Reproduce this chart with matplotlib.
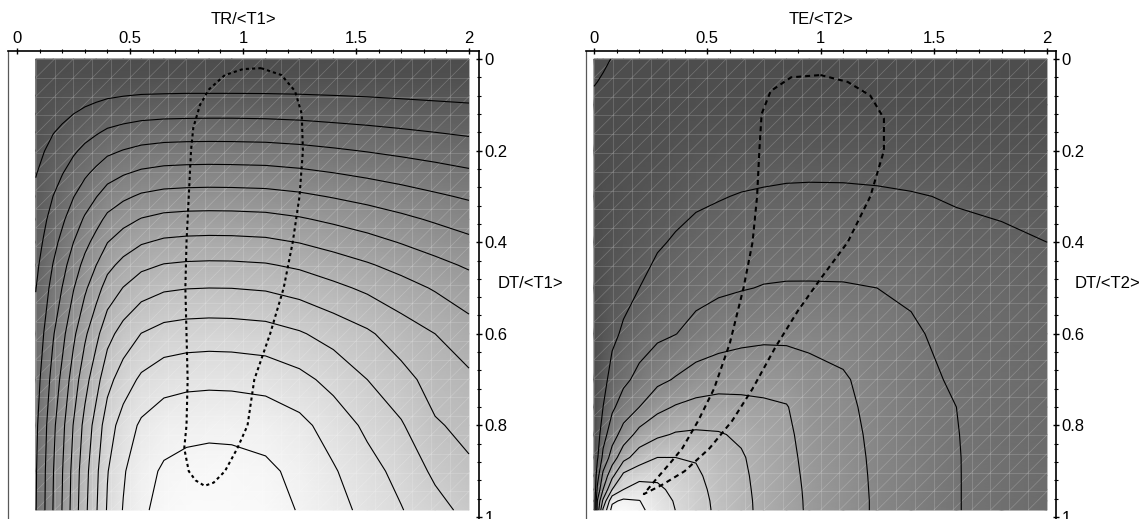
import numpy as np
import matplotlib
matplotlib.use("Agg")
import matplotlib.pyplot as plt
import matplotlib.transforms as mtransforms
from matplotlib.collections import LineCollection
from matplotlib.colors import LinearSegmentedColormap
from matplotlib.ticker import MultipleLocator, FuncFormatter

plt.rcParams['font.family'] = ['Liberation Sans', 'DejaVu Sans']
plt.rcParams['font.size'] = 12

# ---- left panel: TR/<T1> vs DT/<T1>, values in contour-level units ----
tr_vals = [0.083, 0.12, 0.16, 0.2, 0.25, 0.3, 0.35, 0.4, 0.47, 0.55, 0.65,
           0.75, 0.85, 0.95, 1.1, 1.25, 1.4, 1.55, 1.7, 1.85, 2.0]
dt1_vals = [0, 0.04, 0.08, 0.12, 0.16, 0.2, 0.25, 0.3, 0.35, 0.4, 0.45, 0.5,
            0.6, 0.7, 0.8, 0.9, 0.985]
level_t1 = [
    [0] * 21,
    [0.07, 0.09, 0.11, 0.13, 0.17, 0.19, 0.22, 0.25, 0.27, 0.29, 0.3, 0.3, 0.3, 0.3, 0.3, 0.29, 0.27, 0.26, 0.25, 0.23, 0.22],
    [0.24, 0.32, 0.41, 0.49, 0.61, 0.71, 0.81, 0.9, 0.98, 1.05, 1.08, 1.1, 1.1, 1.1, 1.09, 1.06, 1.01, 0.96, 0.9, 0.84, 0.79],
    [0.40, 0.53, 0.68, 0.81, 1.0, 1.18, 1.33, 1.5, 1.62, 1.73, 1.79, 1.81, 1.82, 1.82, 1.8, 1.75, 1.66, 1.58, 1.49, 1.4, 1.31],
    [0.57, 0.75, 0.97, 1.16, 1.43, 1.69, 1.91, 2.14, 2.32, 2.47, 2.56, 2.59, 2.6, 2.6, 2.57, 2.49, 2.38, 2.26, 2.13, 2.0, 1.87],
    [0.74, 0.98, 1.27, 1.52, 1.87, 2.2, 2.49, 2.8, 3.03, 3.23, 3.35, 3.39, 3.4, 3.39, 3.36, 3.26, 3.11, 2.95, 2.78, 2.61, 2.44],
    [0.96, 1.27, 1.64, 1.97, 2.42, 2.85, 3.23, 3.62, 3.93, 4.18, 4.33, 4.38, 4.4, 4.39, 4.35, 4.22, 4.03, 3.82, 3.6, 3.38, 3.16],
    [1.18, 1.56, 2.01, 2.41, 2.97, 3.5, 3.96, 4.44, 4.82, 5.14, 5.32, 5.38, 5.4, 5.39, 5.34, 5.18, 4.94, 4.69, 4.42, 4.14, 3.88],
    [1.39, 1.84, 2.37, 2.84, 3.5, 4.12, 4.66, 5.23, 5.68, 6.05, 6.27, 6.34, 6.36, 6.35, 6.29, 6.1, 5.82, 5.53, 5.21, 4.88, 4.57],
    [1.59, 2.1, 2.71, 3.25, 4.0, 4.71, 5.33, 5.98, 6.49, 6.91, 7.16, 7.24, 7.27, 7.26, 7.19, 6.97, 6.65, 6.32, 5.95, 5.58, 5.22],
    [1.79, 2.36, 3.04, 3.65, 4.5, 5.29, 5.99, 6.72, 7.29, 7.77, 8.05, 8.14, 8.17, 8.16, 8.08, 7.84, 7.47, 7.1, 6.69, 6.27, 5.87],
    [1.97, 2.6, 3.35, 4.02, 4.95, 5.83, 6.6, 7.4, 8.03, 8.56, 8.87, 8.97, 9.0, 8.99, 8.9, 8.63, 8.23, 7.82, 7.37, 6.91, 6.47],
    [2.3, 3.04, 3.92, 4.7, 5.8, 6.82, 7.72, 8.66, 9.4, 10.02, 10.37, 10.49, 10.53, 10.51, 10.41, 10.1, 9.63, 9.15, 8.5, 8.0, 7.4],
    [2.57, 3.4, 4.38, 5.25, 6.47, 7.62, 8.62, 9.67, 10.5, 11.18, 11.59, 11.72, 11.76, 11.74, 11.63, 11.28, 10.7, 10.0, 9.35, 8.6, 8.2],
    [2.8, 3.7, 4.77, 5.72, 7.05, 8.3, 9.39, 10.52, 11.43, 12.17, 12.61, 12.75, 12.8, 12.78, 12.66, 12.28, 11.55, 10.8, 10.1, 9.1, 8.75],
    [2.91, 3.85, 4.96, 5.95, 7.33, 8.63, 9.77, 10.95, 11.89, 12.67, 13.12, 13.27, 13.32, 13.3, 13.17, 12.78, 12.1, 11.35, 10.7, 9.8, 9.15],
    [2.95, 3.9, 5.03, 6.03, 7.43, 8.75, 9.9, 11.1, 12.05, 12.84, 13.3, 13.45, 13.5, 13.48, 13.35, 12.95, 12.35, 11.73, 11.05, 10.36, 9.7],
]
levels_t1 = list(range(1, 14))
loop1_x = [1.08, 1.17, 1.23, 1.26, 1.265, 1.25, 1.22, 1.18, 1.12, 1.05, 1.02, 0.975, 0.92, 0.87, 0.83,
           0.79, 0.76, 0.74, 0.75, 0.755, 0.75, 0.745, 0.75, 0.76, 0.77, 0.78, 0.81, 0.85, 0.92, 1.0, 1.08]
loop1_y = [0.02, 0.035, 0.07, 0.12, 0.2, 0.3, 0.4, 0.5, 0.6, 0.7, 0.8, 0.85, 0.9, 0.925, 0.932,
           0.92, 0.9, 0.85, 0.8, 0.7, 0.6, 0.5, 0.4, 0.3, 0.2, 0.15, 0.1, 0.066, 0.035, 0.022, 0.02]

# ---- right panel: TE/<T2> vs DT/<T2> ----
te_vals = [0, 0.015, 0.04, 0.08, 0.13, 0.2, 0.28, 0.36, 0.45, 0.55, 0.65, 0.75,
           0.85, 0.95, 1.1, 1.25, 1.4, 1.6, 1.8, 2.0]
dt2_vals = [0, 0.1, 0.2, 0.3, 0.4, 0.5, 0.6, 0.7, 0.76, 0.82, 0.87, 0.91, 0.94, 0.965, 0.985]
level_t2 = [
    [-0.05, -0.045, -0.035, -0.005, 0, 0, 0, 0, 0, 0, 0, 0, 0, 0, 0, 0, 0, 0, 0, 0],
    [0.017, 0.025, 0.048, 0.03, 0.04, 0.05, 0.07, 0.09, 0.11, 0.13, 0.15, 0.16, 0.17, 0.17, 0.17, 0.16, 0.15, 0.14, 0.12, 0.1],
    [0, 0.02, 0.05, 0.09, 0.13, 0.19, 0.26, 0.33, 0.41, 0.47, 0.52, 0.57, 0.6, 0.62, 0.6, 0.57, 0.52, 0.47, 0.4, 0.35],
    [0, 0.04, 0.11, 0.2, 0.28, 0.4, 0.55, 0.7, 0.85, 0.95, 1.05, 1.11, 1.16, 1.17, 1.17, 1.13, 1.06, 0.93, 0.78, 0.68],
    [0, 0.07, 0.19, 0.35, 0.48, 0.67, 0.9, 1.09, 1.28, 1.4, 1.5, 1.57, 1.6, 1.61, 1.61, 1.57, 1.45, 1.22, 1.18, 1.0],
    [0, 0.11, 0.3, 0.54, 0.72, 1.0, 1.33, 1.53, 1.7, 1.85, 1.95, 2.04, 2.07, 2.07, 2.06, 2.0, 1.84, 1.45, 1.42, 1.22],
    [0, 0.17, 0.45, 0.8, 1.13, 1.56, 1.81, 1.98, 2.3, 2.55, 2.7, 2.78, 2.79, 2.78, 2.65, 2.4, 2.15, 1.66, 1.58, 1.37],
    [0, 0.27, 0.7, 1.33, 1.8, 2.25, 2.75, 3.08, 3.43, 3.6, 3.67, 3.7, 3.6, 3.3, 3.1, 2.64, 2.32, 1.87, 1.67, 1.45],
    [0, 0.38, 1.0, 1.83, 2.43, 3.0, 3.73, 4.08, 4.29, 4.37, 4.27, 4.15, 4.05, 3.5, 3.2, 2.74, 2.4, 2.0, 1.71, 1.49],
    [0, 0.55, 1.6, 2.57, 3.4, 4.36, 4.82, 5.09, 5.15, 5.08, 4.85, 4.45, 4.18, 3.66, 3.27, 2.81, 2.46, 2.02, 1.73, 1.52],
    [0, 0.88, 2.25, 3.44, 4.67, 5.5, 6.0, 6.0, 5.92, 5.4, 5.1, 4.6, 4.24, 3.76, 3.31, 2.85, 2.49, 2.03, 1.74, 1.53],
    [0, 1.6, 3.25, 4.75, 6.25, 6.68, 6.8, 6.5, 6.18, 5.58, 5.18, 4.68, 4.28, 3.82, 3.34, 2.87, 2.51, 2.03, 1.75, 1.54],
    [0, 2.2, 4.0, 6.0, 7.0, 7.45, 7.2, 6.75, 6.3, 5.7, 5.22, 4.72, 4.3, 3.86, 3.36, 2.88, 2.52, 2.03, 1.75, 1.54],
    [0, 3.05, 5.2, 7.8, 8.2, 8.03, 7.45, 6.92, 6.37, 5.77, 5.25, 4.75, 4.31, 3.88, 3.37, 2.89, 2.52, 2.03, 1.75, 1.54],
    [0, 3.3, 6.17, 8.35, 8.55, 8.2, 7.59, 6.99, 6.4, 5.8, 5.26, 4.76, 4.31, 3.89, 3.37, 2.89, 2.52, 2.03, 1.75, 1.54],
]
levels_t2 = [-0.01, 1, 2, 3, 4, 5, 6, 7, 8]
loop2_x = [1.0, 1.12, 1.22, 1.28, 1.28, 1.22, 1.12, 1.0, 0.9, 0.8, 0.7, 0.61, 0.51, 0.4, 0.3, 0.22,
           0.27, 0.34, 0.39, 0.46, 0.53, 0.6, 0.66, 0.7, 0.72, 0.73, 0.74, 0.78, 0.87, 1.0]
loop2_y = [0.035, 0.05, 0.08, 0.13, 0.2, 0.3, 0.4, 0.48, 0.55, 0.63, 0.72, 0.79, 0.85, 0.9, 0.93, 0.95,
           0.92, 0.88, 0.85, 0.79, 0.72, 0.62, 0.5, 0.4, 0.3, 0.2, 0.12, 0.07, 0.04, 0.035]

gray = LinearSegmentedColormap.from_list('mgray', [(0.30, 0.30, 0.30), (0.98, 0.98, 0.98)])
fmt = FuncFormatter(lambda v, p: f'{v:g}')


def draw_panel(ax, xs, ys, z, levels, dash_x, dash_y, dash, xlab, ylab, xlim):
    z = np.array(z)
    ax.pcolormesh(xs, ys, z, shading='gouraud', cmap=gray, vmin=0, vmax=z.max())

    # light triangle mesh like the original renderer
    gx = np.arange(xs[0], 2.0001, 1 / 12)
    gy = np.linspace(0, ys[-1], 25)
    segs = [[(x, gy[0]), (x, gy[-1])] for x in gx]
    segs += [[(gx[0], y), (gx[-1], y)] for y in gy]
    for i in range(len(gx) - 1):
        for j in range(len(gy) - 1):
            segs.append([(gx[i], gy[j + 1]), (gx[i + 1], gy[j])])
    ax.add_collection(LineCollection(segs, colors=[(1, 1, 1, 0.22)], linewidths=0.5))

    ax.contour(xs, ys, z, levels=levels, colors='k', linewidths=0.8, linestyles='solid')
    ax.plot(dash_x, dash_y, color='k', lw=1.5, linestyle=dash)

    ax.set_xlim(*xlim)
    ax.set_ylim(1.0153, -0.0175)
    ax.xaxis.tick_top()
    ax.yaxis.tick_right()
    ax.xaxis.set_major_locator(MultipleLocator(0.5))
    ax.xaxis.set_minor_locator(MultipleLocator(0.1))
    ax.yaxis.set_major_locator(MultipleLocator(0.2))
    ax.yaxis.set_minor_locator(MultipleLocator(0.04))
    ax.xaxis.set_major_formatter(fmt)
    ax.yaxis.set_major_formatter(fmt)
    ax.tick_params(which='major', direction='inout', length=5, width=1)
    ax.tick_params(which='minor', direction='inout', length=3, width=0.8)
    ax.tick_params(axis='x', pad=1)
    ax.tick_params(axis='y', pad=1.5)
    for s in ('top', 'right'):
        ax.spines[s].set_linewidth(1.2)
    ax.spines['left'].set_color('0.35')
    ax.spines['left'].set_linewidth(0.9)
    ax.spines['bottom'].set_visible(False)

    ax.set_xlabel(xlab, labelpad=5)
    ax.xaxis.set_label_position('top')
    tr = mtransforms.blended_transform_factory(ax.transAxes, ax.transData)
    tr = tr + mtransforms.ScaledTranslation(0.19, 0, ax.figure.dpi_scale_trans)
    ax.text(1.0, 0.49, ylab, transform=tr, ha='left', va='center')


fig = plt.figure(figsize=(11.47, 5.19), dpi=100)
ax1 = fig.add_axes([8 / 1147, -5 / 519, 471 / 1147, 473 / 519])
ax2 = fig.add_axes([586 / 1147, -5 / 519, 470 / 1147, 473 / 519])

draw_panel(ax1, tr_vals, dt1_vals, level_t1, levels_t1, loop1_x, loop1_y, (0, (1.5, 1.5)),
           'TR/<T1>', 'DT/<T1>', (-0.0398, 2.0442))
draw_panel(ax2, te_vals, dt2_vals, level_t2, levels_t2, loop2_x, loop2_y, (0, (2.4, 1.9)),
           'TE/<T2>', 'DT/<T2>', (-0.0353, 2.0397))

fig.savefig('out.png', dpi=100)
